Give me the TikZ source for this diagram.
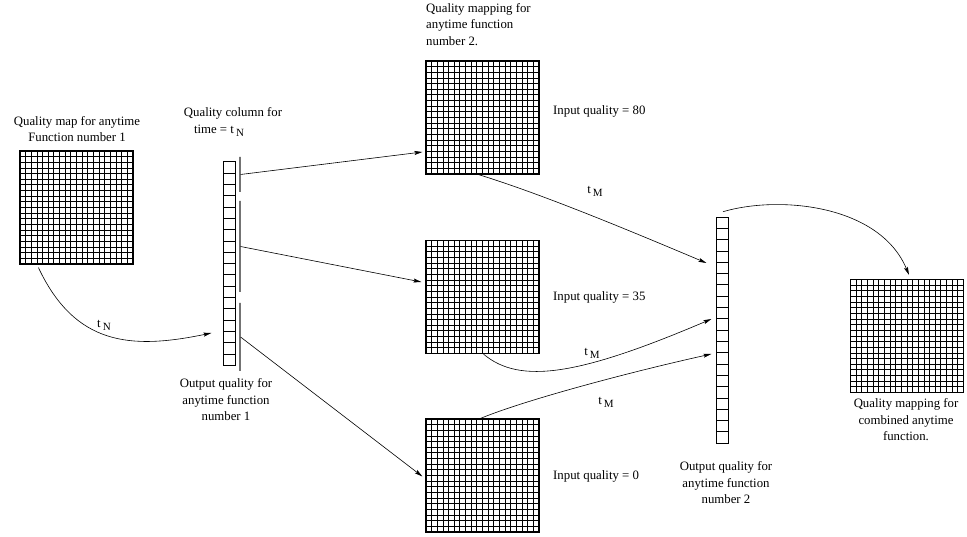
\documentclass[tikz,border=0pt]{standalone}
\usepackage{fontspec}
\setmainfont{Liberation Serif}
\usetikzlibrary{arrows.meta,positioning,calc}

\newcommand{\lowsub}[1]{\,\raisebox{-0.5ex}{\fontsize{11}{11}\selectfont #1}}

\tikzset{
  txt/.style={font=\fontsize{12.8}{16.5}\selectfont, inner sep=0pt},
  qmap/.style={draw, line width=1.2pt, minimum size=113pt, inner sep=0pt,
    path picture={
      \foreach \k in {1,...,19} {
        \draw[line width=0.85pt] ($(path picture bounding box.south west)!\k/20!(path picture bounding box.south east)$) -- ($(path picture bounding box.north west)!\k/20!(path picture bounding box.north east)$);
        \draw[line width=0.85pt] ($(path picture bounding box.south west)!\k/20!(path picture bounding box.north west)$) -- ($(path picture bounding box.south east)!\k/20!(path picture bounding box.north east)$);
      }}},
  qcol/.style={draw, line width=0.6pt, minimum width=11.5pt, minimum height=#1*11.3pt, inner sep=0pt,
    path picture={
      \foreach \k in {1,...,#1} {
        \draw[line width=0.6pt] ($(path picture bounding box.south west)!\k/#1!(path picture bounding box.north west)$) -- ($(path picture bounding box.south east)!\k/#1!(path picture bounding box.north east)$);
      }}},
  bar/.style={draw=black!55, line width=1.1pt, minimum width=0pt, inner sep=0pt, minimum height=#1},
  link/.style={line width=0.6pt, -{Stealth[length=8pt,width=4pt,inset=1.5pt]}},
}

\begin{document}
\begin{tikzpicture}[x=1pt,y=-1pt]
\useasboundingbox (0,0) rectangle (967,537);

% Quality maps
\node[qmap] (map1) at (76.5,207.5) {};
\node[qmap] (map2) at (482.5,117.5) {};
\node[qmap] (map3) at (482.5,297) {};
\node[qmap] (map4) at (482.5,475.5) {};
\node[qmap] (map5) at (907,336) {};

% Quality columns
\node[qcol=18] (col1) at (229.5,263.5) {};
\node[qcol=20] (col2) at (722.5,330) {};

% Bars beside the first column
\node[bar=35pt] (bar1) at (240,174.5) {};
\node[bar=91pt] (bar2) at (240,246.5) {};
\node[bar=68pt] (bar3) at (240,337) {};

% Labels
\node[txt, align=center] (cap1) at (77,129) {Quality map for anytime\\Function number 1};
\node[txt] (cap2a) at (233,113) {Quality column for};
\node[txt] (cap2b) at (219,131) {time = t\lowsub{N}};
\node[txt, align=center] (cap3) at (226,400) {Output quality for\\anytime function\\number 1};
\node[txt, align=left, anchor=north west] (cap4) at (426,3) {Quality mapping for\\anytime function\\number 2.};
\node[txt, anchor=west] (in80) at (553,111) {Input quality = 80};
\node[txt, anchor=west] (in35) at (553,297) {Input quality = 35};
\node[txt, anchor=west] (in0) at (553,476) {Input quality = 0};
\node[txt, align=center] (cap5) at (726,483) {Output quality for\\anytime function\\number 2};
\node[txt, align=center] (cap6) at (906,420) {Quality mapping for\\combined anytime\\function.};
\node[txt] (tN) at (104,325) {t\lowsub{N}};
\node[txt] (tM1) at (595,191) {t\lowsub{M}};
\node[txt] (tM2) at (592,353) {t\lowsub{M}};
\node[txt] (tM3) at (606,402) {t\lowsub{M}};

% Connectors
\draw[link] ($(map1.south west)+(19,3)$) .. controls (75,345) and (130,350) .. ($(col1.west)+(-12,69.5)$);
\draw[link] (bar1.east) -- ($(map2.west)+(-3,34.5)$);
\draw[link] (bar2.east) -- ($(map3.west)+(-4,-15)$);
\draw[link] (bar3.east) -- ($(map4.west)+(-3,1)$);
\draw[link] ($(map2.south)+(-4,0)$) .. controls (545,195) and (640,235) .. ($(col2.west)+(-10,-67)$);
\draw[link] ($(map3.south)+(1,0)$) .. controls (520,385) and (580,375) .. ($(col2.west)+(-5,-11)$);
\draw[link] ($(map4.north)+(-2,0)$) .. controls (525,400) and (630,372) .. ($(col2.west)+(-5,24)$);
\draw[link] ($(col2.north)+(0.5,-5)$) .. controls (780,195) and (880,205) .. ($(map5.north)+(2,-4)$);
\end{tikzpicture}
\end{document}
